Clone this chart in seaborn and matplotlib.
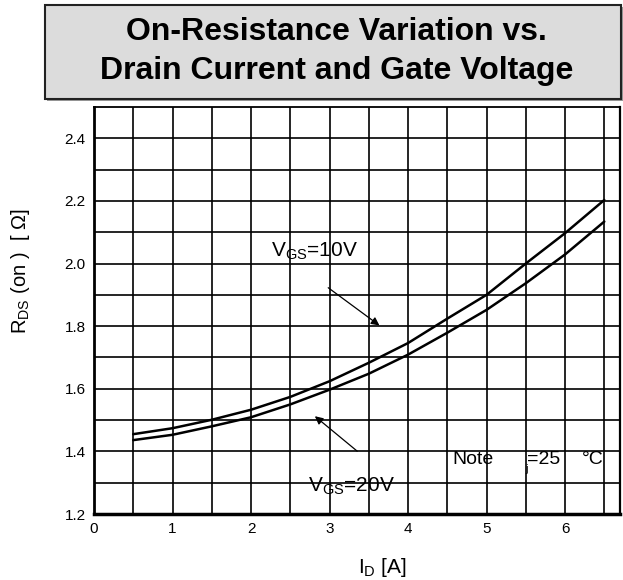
import numpy as np
import pandas as pd
import matplotlib
matplotlib.use("Agg")
import matplotlib.pyplot as plt
import seaborn as sns
from matplotlib.patches import Rectangle

sns.set_style("white")
plt.rcParams['font.family'] = ['Liberation Sans', 'DejaVu Sans']
plt.rcParams['mathtext.fontset'] = 'custom'
plt.rcParams['mathtext.rm'] = 'Liberation Sans'
plt.rcParams['mathtext.it'] = 'Liberation Sans'
for key in ['text.color', 'axes.labelcolor', 'xtick.color', 'ytick.color']:
    plt.rcParams[key] = 'black'

# drain current [A]
current = [0.5, 1.0, 1.5, 2.0, 2.5, 3.0, 3.5, 4.0, 4.5, 5.0, 5.5, 6.0, 6.5]
# on-resistance [ohm]
r_vgs10 = [1.455, 1.474, 1.501, 1.533, 1.574, 1.624, 1.683, 1.746, 1.824, 1.900, 2.000, 2.097, 2.203]
r_vgs20 = [1.436, 1.453, 1.480, 1.509, 1.550, 1.597, 1.648, 1.709, 1.779, 1.852, 1.937, 2.029, 2.134]
series = ["VGS=10V", "VGS=20V"]
x_ticks = [0, 1, 2, 3, 4, 5, 6]
y_ticks = [1.2, 1.4, 1.6, 1.8, 2.0, 2.2, 2.4]

df = pd.DataFrame({
    "Id": current * 2,
    "Rds": r_vgs10 + r_vgs20,
    "Vgs": [series[0]] * len(current) + [series[1]] * len(current),
})

fig = plt.figure(figsize=(6.23, 5.8), dpi=100)

# title box
fig.patches.append(Rectangle((47 / 623, 1 - 101 / 580), 576 / 623, 94 / 580,
                             transform=fig.transFigure, facecolor='#9a9a9a',
                             edgecolor='none', zorder=0))
fig.patches.append(Rectangle((45 / 623, 1 - 99 / 580), 576 / 623, 94 / 580,
                             transform=fig.transFigure, facecolor='#dcdcdc',
                             edgecolor='#222222', linewidth=1.5, zorder=1))
fig.text(0.54, 1 - 32 / 580, "On-Resistance Variation vs.", ha='center', va='center',
         fontsize=23, fontweight='bold', zorder=3)
fig.text(0.54, 1 - 71 / 580, "Drain Current and Gate Voltage", ha='center', va='center',
         fontsize=23, fontweight='bold', zorder=3)

ax = fig.add_axes([94 / 623, 1 - 514 / 580, 526 / 623, 407 / 580])
sns.lineplot(data=df, x="Id", y="Rds", hue="Vgs", palette=["black", "black"],
             linewidth=1.8, legend=False, ax=ax, zorder=3)

ax.set_xlim(0, 6.7)
ax.set_ylim(1.2, 2.5)
ax.set_xticks(np.arange(0, 6.6, 0.5), minor=True)
ax.set_yticks(np.arange(1.2, 2.45, 0.1), minor=True)
ax.set_xticks(x_ticks)
ax.set_xticklabels([str(t) for t in x_ticks])
ax.set_yticks(y_ticks)
ax.set_yticklabels([f"{t:.1f}" for t in y_ticks])
ax.grid(True, which='both', color='black', linewidth=1.2)
ax.tick_params(which='both', length=0, labelsize=11, pad=6)
for side, lw in [('left', 2.0), ('bottom', 2.5), ('top', 1.3), ('right', 1.6)]:
    ax.spines[side].set_color('black')
    ax.spines[side].set_linewidth(lw)
    ax.spines[side].set_visible(True)

ax.set_xlabel(r"I$_{\mathrm{D}}$ [A]", fontsize=15)
ax.set_ylabel(r"R$_{\mathrm{DS}}$ (on )  [ Ω]", fontsize=14.5)
ax.xaxis.set_label_coords(0.548, -0.102)
ax.yaxis.set_label_coords(-0.118, 0.597)

# annotations
ax.text(2.25, 2.021, r"V$_{\mathrm{GS}}$=10V", fontsize=15, va='baseline', zorder=4)
ax.annotate("", xy=(3.664, 1.797), xytext=(2.955, 1.928),
            arrowprops=dict(arrowstyle='-|>', color='black', lw=0.9,
                            mutation_scale=12), zorder=4)
ax.text(2.72, 1.271, r"V$_{\mathrm{GS}}$=20V", fontsize=15, va='baseline', zorder=4)
ax.annotate("", xy=(2.786, 1.518), xytext=(3.38, 1.395),
            arrowprops=dict(arrowstyle='-|>', color='black', lw=0.9,
                            mutation_scale=12), zorder=4)
ax.text(4.57, 1.361, "Note", fontsize=14, va='baseline', zorder=4)
ax.text(5.49, 1.335, "j", fontsize=8, va='baseline', zorder=4)
ax.text(5.52, 1.361, "=25", fontsize=14, va='baseline', zorder=4)
ax.text(6.21, 1.361, "°C", fontsize=14, va='baseline', zorder=4)

fig.savefig("out.png", dpi=100)
